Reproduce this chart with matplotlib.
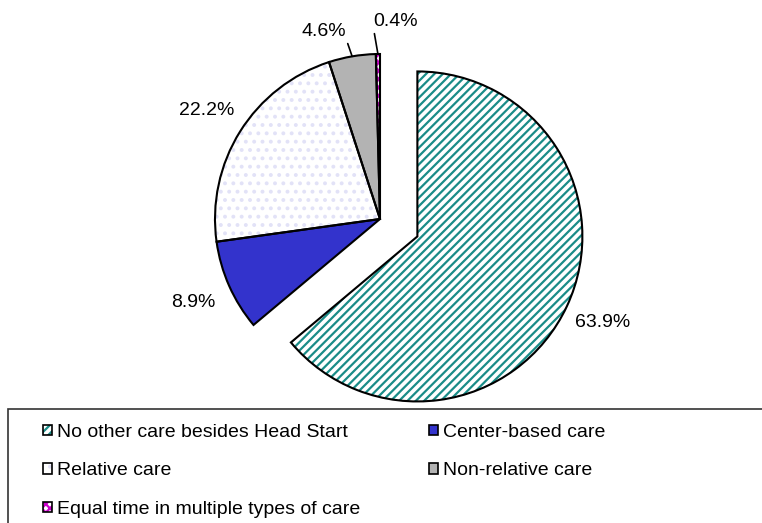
import matplotlib.pyplot as plt
from matplotlib.patches import Patch, Rectangle
import numpy as np

plt.rcParams['font.family'] = ['Liberation Sans', 'DejaVu Sans']
plt.rcParams['hatch.linewidth'] = 1.6

labels = ['No other care besides Head Start', 'Center-based care', 'Relative care',
          'Non-relative care', 'Equal time in multiple types of care']
values = [63.9, 8.9, 22.2, 4.6, 0.4]
pct_text = ['63.9%', '8.9%', '22.2%', '4.6%', '0.4%']

faces = ['white', '#3333cc', 'white', '#b3b3b3', 'white']
hatch_cols = ['#1a8c88', '#3333cc', '#e2e2f7', '#b3b3b3', '#cc00cc']
hatches = ['////', None, '..', None, 'xxxx']
explode_frac = [0.25, 0, 0, 0, 0]

W, H = 762, 523
fig = plt.figure(figsize=(W / 100, H / 100), dpi=100)
ax = fig.add_axes([0, 0, 1, 1])

center = (380, H - 219)
R = 165
explode = [e * R for e in explode_frac]

# fill layer (hatches drawn in colour, no outline)
fills, _ = ax.pie(values, explode=explode, startangle=90, counterclock=False,
                  center=center, radius=R, frame=True)
for w, fc, hc, ht in zip(fills, faces, hatch_cols, hatches):
    w.set_facecolor(fc)
    w.set_edgecolor(hc)
    w.set_linewidth(0)
    if ht:
        w.set_hatch(ht)

# outline layer
outl, _ = ax.pie(values, explode=explode, startangle=90, counterclock=False,
                 center=center, radius=R, frame=True,
                 wedgeprops=dict(facecolor='none', edgecolor='black', linewidth=1.5))

fs = 14
for i, w in enumerate(outl[:3]):
    th = np.deg2rad((w.theta1 + w.theta2) / 2)
    cx, cy = w.center
    ax.text(cx + 1.24 * R * np.cos(th), cy + 1.24 * R * np.sin(th), pct_text[i],
            ha='center', va='center', fontsize=fs)

# small slices with leader lines
for i, txt_xy, rp in [(3, (324, H - 31), (1.0, 0.0)), (4, (396, H - 21), (0.0, 0.0))]:
    w = outl[i]
    th = np.deg2rad((w.theta1 + w.theta2) / 2)
    cx, cy = w.center
    ax.annotate(pct_text[i], xy=(cx + R * np.cos(th), cy + R * np.sin(th)),
                xytext=txt_xy, ha='center', va='center', fontsize=fs,
                arrowprops=dict(arrowstyle='-', color='black', lw=1.2,
                                relpos=rp, shrinkA=1, shrinkB=0))

ax.set_xlim(0, W)
ax.set_ylim(0, H)
ax.set_aspect('auto')
ax.axis('off')

# legend box
ax.add_patch(Rectangle((8, -20), W + 20, H - 409 + 20, facecolor='white',
                       edgecolor='#333333', linewidth=1.2, clip_on=False, zorder=0))

handles = []
for fc, hc, ht in zip(faces, hatch_cols, hatches):
    handles.append((Patch(facecolor=fc, edgecolor=hc, hatch=ht, linewidth=0),
                    Patch(facecolor='none', edgecolor='black', linewidth=1.2)))
# row-major order in a 2-column legend
order = [0, 2, 4, 1, 3]
ax.legend([handles[k] for k in order], [labels[k] for k in order], ncol=2,
          frameon=False, fontsize=fs,
          loc='upper left', bbox_to_anchor=(43, H - 424), bbox_transform=ax.transData,
          borderpad=0, borderaxespad=0, handlelength=0.47, handleheight=0.47,
          handletextpad=0.25, labelspacing=1.1, columnspacing=3.55)

fig.savefig('out.png', dpi=100)
